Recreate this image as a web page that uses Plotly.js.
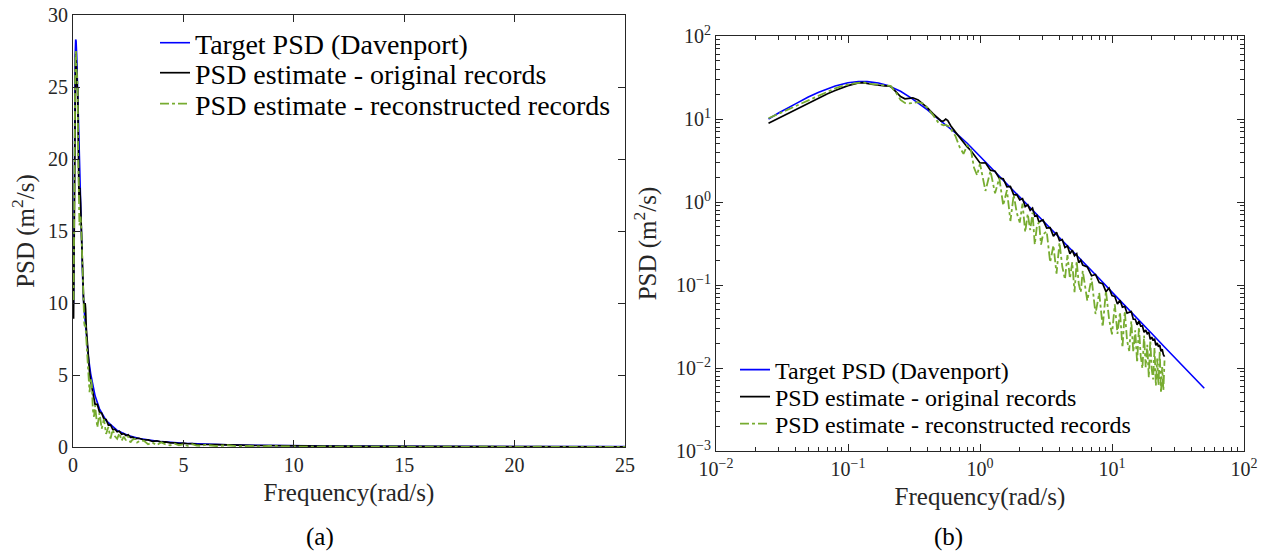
<!DOCTYPE html>
<html>
<head>
<meta charset="utf-8">
<script src="https://cdn.plot.ly/plotly-3.0.1.min.js"></script>
<style>
html,body{margin:0;padding:0;background:#fff;}
#chart{width:1271px;height:554px;}
</style>
</head>
<body>
<div id="chart"></div>
<script>
// ---------------- DATA ----------------
const seriesNames = ["Target PSD (Davenport)", "PSD estimate - original records", "PSD estimate - reconstructed records"];

// Target PSD (Davenport)
const freqTarget = [0.025,0.03,0.04,0.05,0.06,0.07,0.08,0.1,0.12,0.14,0.17,0.2,0.25,0.3,0.35,0.4,0.45,0.5,0.6,0.7,0.8,1.0,1.2,1.5,2,2.5,3,4,5,6,7,8,10,12,15,20,25,30,40,50];
const psdTarget = [10.0,11.9,15.2,18.4,21.0,23.2,25.0,27.3,28.3,28.2,27.1,25.4,21.6,18.0,15.2,12.9,11.0,9.6,7.6,6.2,5.1,3.55,2.65,1.83,1.15,0.80,0.59,0.37,0.26,0.195,0.152,0.12,0.082,0.061,0.042,0.026,0.0179,0.0132,0.0083,0.0057];

// Frequencies of the estimated PSDs (rad/s)
const freqEst = [
  0.025,0.03,0.04,0.05,0.06,0.07,0.08,0.09,0.1,0.12,0.13,0.15,0.17,0.19,0.21,0.23,0.25,0.27,0.29,0.31,
  0.34,0.37,0.4,0.44,0.48,0.51,0.53,0.55,0.57,0.6,0.65,0.7,0.75,0.8,0.85,0.9,0.95,1.0,
  1.1,1.2,1.3,1.4,1.5,1.6,1.7,1.8,1.9,2.0,2.1,2.2,2.3,2.4,2.5,2.6,2.7,2.8,2.9,3.0,
  3.2,3.4,3.6,3.8,4.0,4.2,4.4,4.6,4.8,5.0,5.2,5.4,5.6,5.8,6.0,
  6.5,7.0,7.5,8.0,8.5,9.0,9.5,10,10.5,11,11.5,12,12.5,13,13.5,14,14.5,15,15.5,16,16.5,17,17.5,18,18.5,19,19.5,20,20.5,21,21.5,22,22.5,23,23.5,24,24.5,25
];

// PSD estimate - original records
const psdOriginal = [
  8.9,10.3,13.0,15.6,18.0,20.2,22.0,23.8,25.2,27.2,27.4,26.2,25.3,25.0,24.9,21.5,18.6,17.5,17.6,18.0,
  17.0,15.3,13.6,11.6,10.2,9.4,9.5,10.0,9.6,8.3,7.0,6.0,5.2,4.6,4.2,3.7,3.2,2.95,
  2.97,2.42,2.35,1.94,1.91,1.52,1.54,1.22,1.23,1.06,1.10,0.88,0.925,0.795,0.846,0.675,0.689,0.571,0.595,0.608,
  0.485,0.490,0.386,0.431,0.342,0.353,0.283,0.295,0.238,0.263,0.225,0.238,0.186,0.199,0.174,
  0.165,0.129,0.134,0.107,0.104,0.0832,0.0917,0.0747,0.0726,0.0591,0.0656,0.0541,0.0550,0.0458,0.0465,0.0479,0.0388,0.0387,0.0332,0.0366,0.0320,0.0321,0.0269,0.0286,0.0259,0.0270,0.0222,0.0235,0.0214,0.0225,0.0187,0.0200,0.0181,0.0189,0.0159,0.0168,0.0145,0.0137
];

// PSD estimate - reconstructed records
const psdReconstructed = [
  10.2,11.6,14.3,16.8,19.2,21.5,23.4,24.9,26.0,27.3,27.6,26.5,25.6,25.3,25.1,21.0,17.0,15.6,15.4,15.6,
  16.0,15.4,13.6,11.2,9.2,8.6,8.4,8.5,8.3,7.6,6.3,4.6,3.8,4.8,4.4,2.6,2.1,2.9,
  1.36,2.37,1.27,1.94,0.91,1.39,0.59,1.22,0.74,0.565,0.957,0.435,0.718,0.46,0.744,0.308,0.517,0.571,0.307,0.405,
  0.443,0.188,0.300,0.137,0.324,0.167,0.117,0.229,0.120,0.188,0.0819,0.194,0.1035,0.0819,0.148,
  0.0647,0.1216,0.0447,0.0805,0.0312,0.0851,0.0389,0.0254,0.0586,0.0258,0.0473,0.0176,0.0484,0.0216,0.0160,0.0365,0.0155,0.0285,0.0116,0.0311,0.0139,0.0099,0.0246,0.0102,0.0190,0.0077,0.0216,0.0096,0.0073,0.0176,0.0061,0.0130,0.0062,0.0161,0.0050,0.0103,0.0054,0.0123
];

// Axis ticks
const linXTicks = [0,5,10,15,20,25];
const linYTicks = [0,5,10,15,20,25,30];
const logXTicks = [0.01,0.1,1,10,100];
const logXText = ["10<sup>−2</sup>","10<sup>−1</sup>","10<sup>0</sup>","10<sup>1</sup>","10<sup>2</sup>"];
const logYTicks = [0.001,0.01,0.1,1,10,100];
const logYText = ["10<sup>−3</sup>","10<sup>−2</sup>","10<sup>−1</sup>","10<sup>0</sup>","10<sup>1</sup>","10<sup>2</sup>"];

// ---------------- STYLE ----------------
const FONT = '"Liberation Serif", "Times New Roman", serif';
const INK = '#262626';
const colors = ['#0000ff', '#000000', '#77ac30'];
const dashes = ['solid', 'solid', 'dashdot'];
const widths = [1.6, 1.7, 1.8];

const xs = [freqTarget, freqEst, freqEst];
const ys = [psdTarget, psdOriginal, psdReconstructed];
const leftLegends = ['legend', 'legend2', 'legend3'];
const rightLegends = ['legend4', 'legend5', 'legend6'];

const traces = [];
for (let i = 0; i < 3; i++) {
  traces.push({
    x: xs[i], y: ys[i], type: 'scatter', mode: 'lines', name: seriesNames[i],
    xaxis: 'x', yaxis: 'y', legend: leftLegends[i],
    line: {color: colors[i], width: widths[i], dash: dashes[i]},
    hoverinfo: 'skip'
  });
}
for (let i = 0; i < 3; i++) {
  traces.push({
    x: xs[i], y: ys[i], type: 'scatter', mode: 'lines', name: seriesNames[i],
    xaxis: 'x2', yaxis: 'y2', legend: rightLegends[i],
    line: {color: colors[i], width: widths[i], dash: dashes[i]},
    hoverinfo: 'skip'
  });
}

const axisBase = {
  showgrid: false, zeroline: false, showline: true, linecolor: INK, linewidth: 1,
  mirror: 'ticks', ticks: 'inside', ticklen: 7, tickwidth: 1, tickcolor: INK,
  tickfont: {family: FONT, size: 20, color: INK}
};
const minorLog = {dtick: 'D1', ticks: 'inside', ticklen: 4, tickwidth: 1, tickcolor: INK, showgrid: false};
const titleFont = {family: FONT, size: 25, color: INK};

function legendAt(xPx, yPx, size) {
  return {
    x: xPx/1271, y: 1 - yPx/554, xanchor: 'left', yanchor: 'middle',
    bgcolor: 'rgba(0,0,0,0)', borderwidth: 0,
    font: {family: FONT, size: size, color: '#000'}, tracegroupgap: 0
  };
}

const layout = {
  width: 1271, height: 554,
  margin: {l: 0, r: 0, t: 0, b: 0},
  paper_bgcolor: '#ffffff', plot_bgcolor: '#ffffff',
  font: {family: FONT, color: INK},
  showlegend: true,
  xaxis: Object.assign({}, axisBase, {
    domain: [73/1271, 625/1271], range: [0, 25], tickvals: linXTicks, anchor: 'y',
    title: {text: 'Frequency(rad/s)', font: titleFont, standoff: 8}
  }),
  yaxis: Object.assign({}, axisBase, {
    domain: [(554-447)/554, (554-15)/554], range: [0, 30], tickvals: linYTicks, anchor: 'x',
    title: {text: 'PSD (m<sup>2</sup>/s)', font: titleFont, standoff: 6}
  }),
  xaxis2: Object.assign({}, axisBase, {
    type: 'log', domain: [716/1271, 1244/1271], range: [-2, 2], anchor: 'y2',
    tickvals: logXTicks, ticktext: logXText, minor: minorLog,
    title: {text: 'Frequency(rad/s)', font: titleFont, standoff: 8}
  }),
  yaxis2: Object.assign({}, axisBase, {
    type: 'log', domain: [(554-451)/554, (554-36)/554], range: [-3, 2], anchor: 'x2',
    tickvals: logYTicks, ticktext: logYText, minor: minorLog,
    title: {text: 'PSD (m<sup>2</sup>/s)', font: titleFont, standoff: 12}
  }),
  legend: legendAt(155, 43, 28),
  legend2: legendAt(155, 73, 28),
  legend3: legendAt(155, 104, 28),
  legend4: legendAt(735, 370, 24),
  legend5: legendAt(735, 397, 24),
  legend6: legendAt(735, 424, 24),
  annotations: [
    {text: '(a)', xref: 'paper', yref: 'paper', x: 320/1271, y: 17/554, xanchor: 'center', yanchor: 'middle', showarrow: false, font: {family: FONT, size: 25, color: '#000'}},
    {text: '(b)', xref: 'paper', yref: 'paper', x: 948/1271, y: 17/554, xanchor: 'center', yanchor: 'middle', showarrow: false, font: {family: FONT, size: 25, color: '#000'}}
  ]
};

Plotly.newPlot('chart', traces, layout, {staticPlot: true, displayModeBar: false});
</script>
</body>
</html>
